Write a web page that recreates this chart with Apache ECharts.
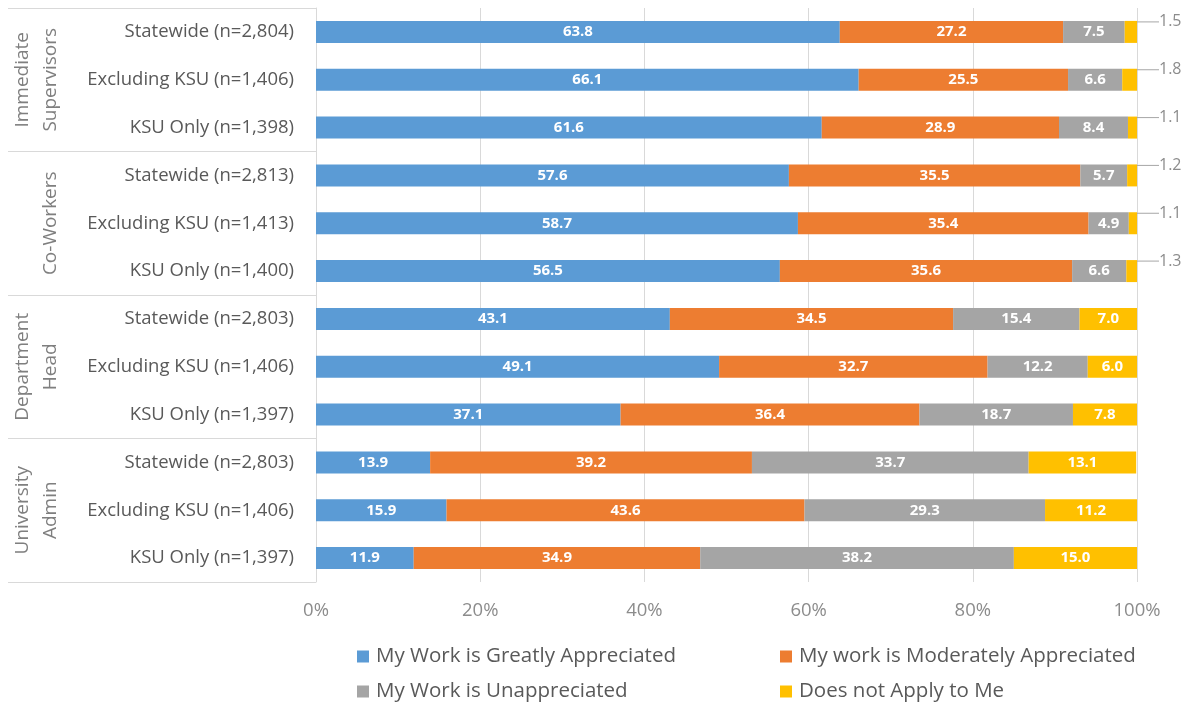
<!DOCTYPE html>
<html>
<head>
<meta charset="utf-8">
<script src="https://cdn.jsdelivr.net/npm/echarts@6/dist/echarts.min.js"></script>
<style>
  html, body { margin: 0; padding: 0; background: #fff; }
  #chart { width: 1189px; height: 704px; }
</style>
</head>
<body>
<div id="chart"></div>
<script>
const categories = [
  'Statewide (n=2,804)', 'Excluding KSU (n=1,406)', 'KSU Only (n=1,398)',
  'Statewide (n=2,813)', 'Excluding KSU (n=1,413)', 'KSU Only (n=1,400)',
  'Statewide (n=2,803)', 'Excluding KSU (n=1,406)', 'KSU Only (n=1,397)',
  'Statewide (n=2,803)', 'Excluding KSU (n=1,406)', 'KSU Only (n=1,397)'
];
const groups = ['Immediate\nSupervisors', 'Co-Workers', 'Department\nHead', 'University\nAdmin'];
const greatly = [63.8, 66.1, 61.6, 57.6, 58.7, 56.5, 43.1, 49.1, 37.1, 13.9, 15.9, 11.9];
const moderately = [27.2, 25.5, 28.9, 35.5, 35.4, 35.6, 34.5, 32.7, 36.4, 39.2, 43.6, 34.9];
const unappreciated = [7.5, 6.6, 8.4, 5.7, 4.9, 6.6, 15.4, 12.2, 18.7, 33.7, 29.3, 38.2];
const notApply = [1.5, 1.8, 1.1, 1.2, 1.1, 1.3, 7.0, 6.0, 7.8, 13.1, 11.2, 15.0];
const xTicks = [0, 20, 40, 60, 80, 100];

const font = '"Open Sans", "Noto Sans", sans-serif';
const seriesNames = [
  'My Work is Greatly Appreciated',
  'My work is Moderately Appreciated',
  'My Work is Unappreciated',
  'Does not Apply to Me'
];
const colors = ['#5b9bd5', '#ed7d31', '#a5a5a5', '#ffc000'];

const myChart = echarts.init(document.getElementById('chart'));

function insideLabel() {
  return {
    show: true,
    position: 'inside',
    color: '#fff',
    fontFamily: font,
    fontWeight: 'bold',
    fontSize: 15,
    formatter: p => p.value.toFixed(1)
  };
}

function makeSeries(i, values) {
  return {
    name: seriesNames[i],
    type: 'bar',
    stack: 'total',
    barWidth: 22,
    itemStyle: { color: colors[i] },
    label: insideLabel(),
    data: values
  };
}

// the thin slices of the first six rows get their label outside, with a leader line
const yellow = makeSeries(3, notApply.map((v, idx) => {
  if (idx < 6) {
    return {
      value: v,
      label: {
        show: true,
        position: 'right',
        distance: 4,
        color: '#8c8c8c',
        fontWeight: 'normal',
        fontSize: 16
      }
    };
  }
  return v;
}));
yellow.labelLayout = function (p) {
  if (p.dataIndex < 6) {
    return { dx: 18, dy: -10 };
  }
};
yellow.labelLine = { show: true, lineStyle: { color: '#a6a6a6', width: 1 } };

function legendItem(i, left, top) {
  return {
    data: [seriesNames[i]],
    left: left,
    top: top,
    itemWidth: 12,
    itemHeight: 12,
    itemGap: 0,
    icon: 'rect',
    textStyle: { color: '#595959', fontSize: 20.5, fontFamily: font, padding: [0, 0, 0, 2] }
  };
}

myChart.setOption({
  animation: false,
  textStyle: { fontFamily: font },
  grid: { left: 316, right: 52, top: 8, bottom: 122 },
  legend: [
    legendItem(0, 352, 641),
    legendItem(1, 775, 641),
    legendItem(2, 352, 676),
    legendItem(3, 775, 676)
  ],
  xAxis: {
    type: 'value',
    min: 0,
    max: 100,
    interval: 20,
    axisLine: { show: false },
    axisTick: { show: false },
    splitLine: { lineStyle: { color: '#d9d9d9' } },
    axisLabel: {
      color: '#8c8c8c',
      fontSize: 18.5,
      margin: 19,
      formatter: v => xTicks.indexOf(v) >= 0 ? v + '%' : ''
    }
  },
  yAxis: [
    {
      type: 'category',
      data: categories,
      inverse: true,
      axisLine: { show: true, lineStyle: { color: '#d9d9d9' } },
      axisTick: { show: false },
      axisLabel: { color: '#595959', fontSize: 18.5, margin: 22 }
    },
    {
      type: 'category',
      data: groups,
      inverse: true,
      position: 'left',
      axisLine: { show: false },
      axisTick: { show: true, length: 308, lineStyle: { color: '#d9d9d9' } },
      axisLabel: {
        rotate: 90,
        margin: 251,
        color: '#7f7f7f',
        fontSize: 19,
        lineHeight: 28
      }
    }
  ],
  series: [
    makeSeries(0, greatly),
    makeSeries(1, moderately),
    makeSeries(2, unappreciated),
    yellow
  ]
});
</script>
</body>
</html>
